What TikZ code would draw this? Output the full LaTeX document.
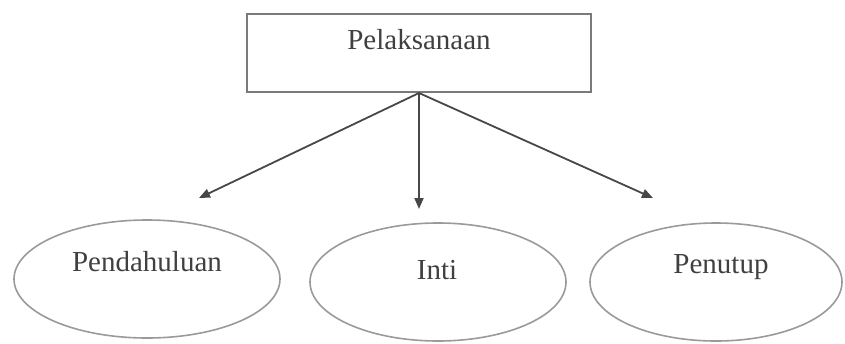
\documentclass[tikz,border=0pt]{standalone}
\usepackage{fontspec}
\setmainfont{Liberation Serif}
\usepackage{tikz}
\usetikzlibrary{shapes.geometric,arrows.meta}
\definecolor{boxgray}{HTML}{7A7A7A}
\definecolor{ovalgray}{HTML}{9A9A9A}
\definecolor{arrgray}{HTML}{474747}
\tikzset{
  box/.style={rectangle, draw=boxgray, line width=2pt, minimum width=344pt, minimum height=78pt, inner sep=0pt},
  oval/.style={ellipse, draw=ovalgray, line width=1.6pt, inner sep=0pt},
  txt/.style={font=\fontsize{29}{33}\selectfont, text=black!75, inner sep=0pt},
  arr/.style={draw=arrgray, line width=1.8pt, -{Triangle[length=11pt,width=9pt]}},
  plan/.style={x=1pt, y=-1pt}
}
\begin{document}
\begin{tikzpicture}[plan]
  \useasboundingbox (0,0) rectangle (845,343);
  \node[box] (pel) at (419,53) {};
  \node[txt] (tpel) at (419,40) {Pelaksanaan};
  \node[oval, minimum width=266pt, minimum height=118pt] (pend) at (147,279) {};
  \node[oval, minimum width=256pt, minimum height=118pt] (inti) at (438,282) {};
  \node[oval, minimum width=252pt, minimum height=118pt] (penu) at (716,282) {};
  \node[txt] (tpend) at (147,262) {Pendahuluan};
  \node[txt] (tinti) at (437,270) {Inti};
  \node[txt] (tpenu) at (721,267) {Penutup};
  \coordinate (aL) at (199,198);
  \coordinate (aM) at (419,209);
  \coordinate (aR) at (653,198);
  \draw[arr] (pel.south) -- (aL);
  \draw[arr] (pel.south) -- (aM);
  \draw[arr] (pel.south) -- (aR);
\end{tikzpicture}
\end{document}
